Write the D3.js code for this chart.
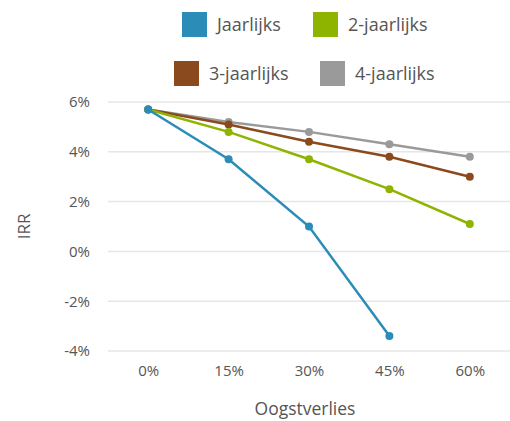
<!DOCTYPE html>
<html>
<head>
<meta charset="utf-8">
<script src="https://cdn.jsdelivr.net/npm/d3@7"></script>
<style>
  body { margin: 0; background: #fff; }
  text { font-family: "Open Sans", sans-serif; fill: #555; }
</style>
</head>
<body>
<svg id="chart" width="510" height="421"></svg>
<script>
// chart data
var categories = ["0%", "15%", "30%", "45%", "60%"];
var seriesNames = ["Jaarlijks", "2-jaarlijks", "3-jaarlijks", "4-jaarlijks"];
var jaarlijks = [5.7, 3.7, 1.0, -3.4];
var tweeJaarlijks = [5.7, 4.8, 3.7, 2.5, 1.1];
var drieJaarlijks = [5.7, 5.1, 4.4, 3.8, 3.0];
var vierJaarlijks = [5.7, 5.2, 4.8, 4.3, 3.8];
var yTicks = [-4, -2, 0, 2, 4, 6];

var colors = ["#2b8cb8", "#8fb400", "#8b4a1e", "#9a9a9a"];
var allSeries = [jaarlijks, tweeJaarlijks, drieJaarlijks, vierJaarlijks];

var svg = d3.select("#chart");

var margin = {left: 108, right: 0, top: 102, bottom: 68};
var width = 510 - margin.left - margin.right;
var height = 421 - margin.top - margin.bottom;

var x = d3.scalePoint()
  .domain(categories)
  .range([0, width])
  .padding(0.5);

var y = d3.scaleLinear()
  .domain([-4, 6])
  .range([height - 2, 0]);

var g = svg.append("g").attr("transform", "translate(" + margin.left + "," + margin.top + ")");

// gridlines
g.selectAll("line.grid")
  .data(yTicks)
  .enter()
  .append("line")
  .attr("class", "grid")
  .attr("x1", 0)
  .attr("x2", width)
  .attr("y1", d => y(d))
  .attr("y2", d => y(d))
  .attr("stroke", "#e6e6e6")
  .attr("stroke-width", 1.5);

// y axis labels
var yAxis = d3.axisLeft(y).tickValues(yTicks).tickSize(0).tickPadding(18).tickFormat(d => d + "%");
var yg = g.append("g").call(yAxis);
yg.select(".domain").remove();
yg.selectAll("text").style("font-size", "15px").attr("fill", "#555").style("font-family", "'Open Sans', sans-serif");

// x axis labels
var xAxis = d3.axisBottom(x).tickSize(0).tickPadding(14);
var xg = g.append("g").attr("transform", "translate(0," + (height - 2) + ")").call(xAxis);
xg.select(".domain").remove();
xg.selectAll("text").style("font-size", "15px").attr("fill", "#555").style("font-family", "'Open Sans', sans-serif");

// axis titles
svg.append("text")
  .attr("x", 305)
  .attr("y", 415)
  .attr("text-anchor", "middle")
  .style("font-size", "17.5px")
  .text("Oogstverlies");

svg.append("text")
  .attr("transform", "translate(30," + (margin.top + y(1)) + ") rotate(-90)")
  .attr("text-anchor", "middle")
  .style("font-size", "17px")
  .text("IRR");

// lines and markers
var line = d3.line()
  .x((d, i) => x(categories[i]))
  .y(d => y(d));

allSeries.slice().reverse().forEach(function(vals, ri) {
  var idx = allSeries.length - 1 - ri;
  g.append("path")
    .datum(vals)
    .attr("d", line)
    .attr("fill", "none")
    .attr("stroke", colors[idx])
    .attr("stroke-width", 2.5);
  g.selectAll("circle.s" + idx)
    .data(vals)
    .enter()
    .append("circle")
    .attr("class", "s" + idx)
    .attr("cx", (d, i) => x(categories[i]))
    .attr("cy", d => y(d))
    .attr("r", 4)
    .attr("fill", colors[idx]);
});

// legend
var legendPos = [[182, 12], [313, 12], [174, 61], [320, 61]];
seriesNames.forEach(function(name, i) {
  var lg = svg.append("g").attr("transform", "translate(" + legendPos[i][0] + "," + legendPos[i][1] + ")");
  lg.append("rect")
    .attr("width", 25)
    .attr("height", 25)
    .attr("fill", colors[i]);
  lg.append("text")
    .attr("x", 35)
    .attr("y", 19)
    .style("font-size", "18px")
    .text(name);
});
</script>
</body>
</html>
